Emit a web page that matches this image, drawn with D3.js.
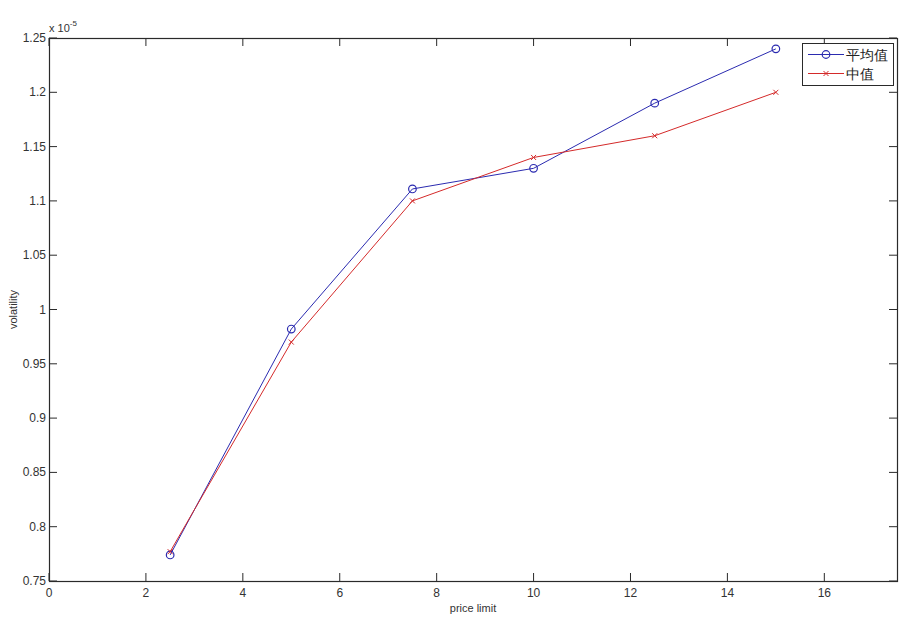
<!DOCTYPE html>
<html>
<head>
<meta charset="utf-8">
<script src="https://cdn.jsdelivr.net/npm/d3@7"></script>
<style>
html,body{margin:0;padding:0;background:#fff;}
svg{display:block;}
text{font-family:"Liberation Sans",Arial,sans-serif;}
</style>
</head>
<body>
<script>
const priceLimit = [2.5, 5, 7.5, 10, 12.5, 15];
const meanValues = [0.774, 0.982, 1.111, 1.130, 1.190, 1.240];
const medianValues = [0.777, 0.970, 1.100, 1.140, 1.160, 1.200];
const seriesNames = ["平均值", "中值"];
const xTicks = [0, 2, 4, 6, 8, 10, 12, 14, 16];
const yTicks = [0.75, 0.8, 0.85, 0.9, 0.95, 1, 1.05, 1.1, 1.15, 1.2, 1.25];

const W = 903, H = 621;
const L = 49, R = 897, T = 38, B = 581;
const svg = d3.select("body").append("svg").attr("width", W).attr("height", H);

const x = d3.scaleLinear().domain([0, 17.5]).range([L, R]);
const y = d3.scaleLinear().domain([0.75, 1.25]).range([B, T]);

const axisCol = "#2a2a2a", textCol = "#333";
const tl = 8;

// tick marks (inward) on all four sides
const g = svg.append("g");
xTicks.forEach(v => {
  g.append("line").attr("x1", x(v)).attr("x2", x(v)).attr("y1", B).attr("y2", B - tl).attr("stroke", axisCol);
  g.append("line").attr("x1", x(v)).attr("x2", x(v)).attr("y1", T).attr("y2", T + tl).attr("stroke", axisCol);
  g.append("text").attr("x", x(v)).attr("y", B + 16).attr("text-anchor", "middle")
    .attr("font-size", 12).attr("fill", textCol).text(v);
});
yTicks.forEach(v => {
  g.append("line").attr("x1", L).attr("x2", L + tl).attr("y1", y(v)).attr("y2", y(v)).attr("stroke", axisCol);
  g.append("line").attr("x1", R).attr("x2", R - tl).attr("y1", y(v)).attr("y2", y(v)).attr("stroke", axisCol);
  g.append("text").attr("x", L - 3).attr("y", y(v) + 4).attr("text-anchor", "end")
    .attr("font-size", 12).attr("fill", textCol).text(d3.format("")(+v.toFixed(2)));
});
// box
g.append("rect").attr("x", L + 0.5).attr("y", T + 0.5).attr("width", R - L).attr("height", B - T)
  .attr("fill", "none").attr("stroke", axisCol).attr("stroke-width", 1.2);

// exponent
const ex = svg.append("text").attr("x", L).attr("y", T - 6).attr("font-size", 11).attr("fill", textCol);
ex.append("tspan").text("x 10");
ex.append("tspan").attr("dy", -6).attr("font-size", 8).text("-5");

// axis labels
svg.append("text").attr("x", (L + R) / 2).attr("y", B + 31).attr("text-anchor", "middle")
  .attr("font-size", 11).attr("fill", textCol).text("price limit");
svg.append("text").attr("transform", `translate(17,${(T + B) / 2}) rotate(-90)`).attr("text-anchor", "middle")
  .attr("font-size", 11).attr("fill", textCol).text("volatility");

const blue = "#2b2bb0", red = "#d42a2a";
const line = d3.line().x((d, i) => x(priceLimit[i])).y(d => y(d));

svg.append("path").datum(meanValues).attr("d", line).attr("fill", "none").attr("stroke", blue).attr("stroke-width", 1);
svg.append("path").datum(medianValues).attr("d", line).attr("fill", "none").attr("stroke", red).attr("stroke-width", 1);

svg.selectAll(".mc").data(meanValues).enter().append("circle")
  .attr("cx", (d, i) => x(priceLimit[i])).attr("cy", d => y(d)).attr("r", 3.8)
  .attr("fill", "none").attr("stroke", blue).attr("stroke-width", 1.2);

function cross(sel, cx, cy, s, col) {
  sel.append("path").attr("d", `M${cx - s},${cy - s}L${cx + s},${cy + s}M${cx - s},${cy + s}L${cx + s},${cy - s}`)
    .attr("stroke", col).attr("stroke-width", 1);
}
medianValues.forEach((d, i) => cross(svg, x(priceLimit[i]), y(d), 2.5, red));

// legend
const lg = svg.append("g");
lg.append("rect").attr("x", 802.5).attr("y", 43.5).attr("width", 91).attr("height", 42)
  .attr("fill", "#fff").attr("stroke", axisCol).attr("stroke-width", 1);
const ly = [54.5, 73.5];
[blue, red].forEach((c, i) => {
  lg.append("line").attr("x1", 808).attr("x2", 844).attr("y1", ly[i]).attr("y2", ly[i]).attr("stroke", c);
  lg.append("text").attr("x", 846).attr("y", ly[i] + 5).attr("font-size", 14)
    .attr("font-family", "'Noto Sans CJK SC', sans-serif").attr("fill", "#222").text(seriesNames[i]);
});
lg.append("circle").attr("cx", 826).attr("cy", ly[0]).attr("r", 3.8).attr("fill", "none").attr("stroke", blue).attr("stroke-width", 1.2);
cross(lg, 826, ly[1], 2.5, red);
</script>
</body>
</html>
